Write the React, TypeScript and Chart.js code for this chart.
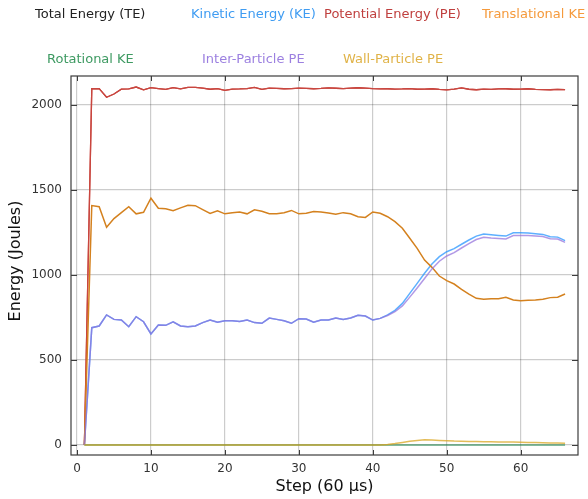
import React, { useEffect, useRef } from 'react';
import { Chart, registerables } from 'chart.js';

Chart.register(...registerables);

const steps = [1, 2, 3, 4, 5, 6, 7, 8, 9, 10, 11, 12, 13, 14, 15, 16, 17, 18, 19, 20, 21, 22, 23, 24, 25, 26, 27, 28, 29, 30, 31, 32, 33, 34, 35, 36, 37, 38, 39, 40, 41, 42, 43, 44, 45, 46, 47, 48, 49, 50, 51, 52, 53, 54, 55, 56, 57, 58, 59, 60, 61, 62, 63, 64, 65, 66];

const totalEnergy = [0, 2096, 2097, 2046, 2065, 2094, 2095, 2106, 2090, 2102, 2097, 2092, 2103, 2095, 2104, 2104, 2100, 2093, 2097, 2087, 2094, 2095, 2097, 2104, 2092, 2100, 2098, 2096, 2097, 2100, 2098, 2096, 2098, 2101, 2099, 2097, 2100, 2102, 2100, 2097, 2095, 2096, 2094, 2095, 2097, 2093, 2094, 2096, 2092, 2089, 2094, 2101, 2093, 2090, 2094, 2092, 2095, 2096, 2093, 2094, 2096, 2092, 2091, 2090, 2092, 2091];

const potentialEnergy = [0, 2096, 2097, 2046, 2065, 2094, 2095, 2106, 2090, 2102, 2097, 2092, 2103, 2095, 2104, 2104, 2100, 2093, 2097, 2087, 2094, 2095, 2097, 2104, 2092, 2100, 2098, 2096, 2097, 2100, 2098, 2096, 2098, 2101, 2099, 2097, 2100, 2102, 2100, 2097, 2095, 2096, 2094, 2095, 2097, 2093, 2094, 2096, 2092, 2089, 2094, 2101, 2093, 2090, 2094, 2092, 2095, 2096, 2093, 2094, 2096, 2092, 2091, 2090, 2092, 2091];

const kineticEnergy = [0, 690, 700, 765, 739, 735, 696, 755, 725, 653, 706, 704, 725, 700, 696, 700, 720, 735, 722, 731, 731, 727, 735, 720, 716, 747, 739, 731, 716, 743, 741, 722, 735, 735, 747, 739, 747, 763, 759, 735, 745, 765, 792, 833, 892, 951, 1010, 1065, 1108, 1137, 1155, 1181, 1206, 1229, 1241, 1237, 1233, 1229, 1249, 1249, 1247, 1243, 1239, 1225, 1223, 1202];

const translationalKE = [0, 1409, 1402, 1281, 1332, 1367, 1402, 1360, 1369, 1452, 1393, 1390, 1378, 1395, 1410, 1408, 1385, 1362, 1378, 1360, 1367, 1371, 1360, 1384, 1375, 1360, 1360, 1367, 1380, 1360, 1364, 1374, 1371, 1365, 1357, 1367, 1360, 1343, 1339, 1371, 1363, 1343, 1314, 1275, 1216, 1157, 1088, 1045, 994, 967, 947, 916, 888, 863, 857, 861, 861, 869, 853, 849, 851, 853, 857, 867, 869, 888];

const rotationalKE = [0, 0, 0, 0, 0, 0, 0, 0, 0, 0, 0, 0, 0, 0, 0, 0, 0, 0, 0, 0, 0, 0, 0, 0, 0, 0, 0, 0, 0, 0, 0, 0, 0, 0, 0, 0, 0, 0, 0, 0, 0, 0, 0, 0, 0, 0, 0, 0, 0, 0, 0, 0, 0, 0, 0, 0, 0, 0, 0, 0, 0, 0, 0, 0, 0, 0];

const interParticlePE = [0, 690, 700, 765, 739, 735, 696, 755, 725, 653, 706, 704, 725, 700, 696, 700, 720, 735, 722, 731, 731, 727, 735, 720, 716, 747, 739, 731, 716, 743, 741, 722, 735, 735, 747, 739, 747, 763, 759, 735, 745, 762, 784, 818, 870, 924, 980, 1036, 1081, 1112, 1132, 1159, 1185, 1209, 1222, 1218, 1215, 1212, 1232, 1233, 1232, 1229, 1226, 1213, 1212, 1192];

const wallParticlePE = [0, 0, 0, 0, 0, 0, 0, 0, 0, 0, 0, 0, 0, 0, 0, 0, 0, 0, 0, 0, 0, 0, 0, 0, 0, 0, 0, 0, 0, 0, 0, 0, 0, 0, 0, 0, 0, 0, 0, 0, 0, 3, 8, 15, 22, 27, 30, 29, 27, 25, 23, 22, 21, 20, 19, 19, 18, 17, 17, 16, 15, 14, 13, 12, 11, 10];

const xTicks = [0, 10, 20, 30, 40, 50, 60];
const yTicks = [0, 500, 1000, 1500, 2000];

const seriesLabels = [
  'Total Energy (TE)',
  'Kinetic Energy (KE)',
  'Potential Energy (PE)',
  'Translational KE',
  'Rotational KE',
  'Inter-Particle PE',
  'Wall-Particle PE',
];

const xTitle = 'Step (60 µs)';
const yTitle = 'Energy (Joules)';

const FONT = "'DejaVu Sans', sans-serif";

// legend styling / placement (layout only)
const legendTextColors = ['#222222', '#3f9cf2', '#c0403f', '#f59a3c', '#3e9a62', '#9c80e0', '#e0b348'];
const legendPlaces = [
  [35, 15], [191, 15], [324, 15], [482, 15],
  [47, 60], [202, 60], [343, 60],
];

const lineColors = {
  te: '#c9463f',
  ke: 'rgba(30,144,255,0.72)',
  pe: '#c9463f',
  trans: '#d4811e',
  rot: 'rgba(46,139,87,0.75)',
  inter: 'rgba(147,112,219,0.72)',
  wall: 'rgba(218,165,32,0.75)',
};

const decorPlugin = {
  id: 'decor',
  afterDraw(chart: any) {
    const ctx = chart.ctx;
    const a = chart.chartArea;
    ctx.save();
    // frame
    ctx.strokeStyle = '#3c3c3c';
    ctx.lineWidth = 1.2;
    ctx.strokeRect(a.left, a.top, a.right - a.left, a.bottom - a.top);
    // inward ticks
    const xs = chart.scales.x;
    const ys = chart.scales.y;
    ctx.lineWidth = 1;
    ctx.beginPath();
    xTicks.forEach((v) => {
      const px = Math.round(xs.getPixelForValue(v)) + 0.5;
      ctx.moveTo(px, a.bottom);
      ctx.lineTo(px, a.bottom - 5);
      ctx.moveTo(px, a.top);
      ctx.lineTo(px, a.top + 5);
    });
    yTicks.forEach((v) => {
      const py = Math.round(ys.getPixelForValue(v)) + 0.5;
      ctx.moveTo(a.left, py);
      ctx.lineTo(a.left + 6, py);
      ctx.moveTo(a.right, py);
      ctx.lineTo(a.right - 6, py);
    });
    ctx.stroke();

    // axis titles
    ctx.fillStyle = '#111111';
    ctx.font = `16px ${FONT}`;
    ctx.textAlign = 'center';
    ctx.textBaseline = 'middle';
    ctx.fillText(xTitle, (a.left + a.right) / 2, 487);
    ctx.save();
    ctx.translate(16, 261);
    ctx.rotate(-Math.PI / 2);
    ctx.fillText(yTitle, 0, 0);
    ctx.restore();

    // legend
    ctx.font = `13px ${FONT}`;
    ctx.textAlign = 'left';
    ctx.textBaseline = 'middle';
    seriesLabels.forEach((lab, i) => {
      ctx.fillStyle = legendTextColors[i];
      ctx.fillText(lab, legendPlaces[i][0], legendPlaces[i][1]);
    });
    ctx.restore();
  },
};

function pts(vals: number[]) {
  return steps.map((s, i) => ({ x: s, y: vals[i] }));
}

export default function App() {
  const ref = useRef<HTMLCanvasElement | null>(null);

  useEffect(() => {
    if (!ref.current) return;
    const series = [
      { label: seriesLabels[0], data: pts(totalEnergy), color: lineColors.te, w: 1.3 },
      { label: seriesLabels[2], data: pts(potentialEnergy), color: lineColors.pe, w: 1.3 },
      { label: seriesLabels[1], data: pts(kineticEnergy), color: lineColors.ke, w: 1.5 },
      { label: seriesLabels[3], data: pts(translationalKE), color: lineColors.trans, w: 1.5 },
      { label: seriesLabels[4], data: pts(rotationalKE), color: lineColors.rot, w: 1.5 },
      { label: seriesLabels[5], data: pts(interParticlePE), color: lineColors.inter, w: 1.5 },
      { label: seriesLabels[6], data: pts(wallParticlePE), color: lineColors.wall, w: 1.5 },
    ];
    const n = series.length;
    const chart = new Chart(ref.current, {
      type: 'line',
      data: {
        datasets: series.map((s, i) => ({
          label: s.label,
          data: s.data,
          borderColor: s.color,
          backgroundColor: s.color,
          borderWidth: s.w,
          pointRadius: 0,
          tension: 0,
          fill: false,
          order: n - i,
        })),
      },
      options: {
        animation: false,
        responsive: true,
        maintainAspectRatio: false,
        layout: { padding: { left: 0, right: 10, top: 76, bottom: 0 } },
        plugins: {
          legend: { display: false },
          tooltip: { enabled: false },
        },
        scales: {
          x: {
            type: 'linear',
            min: -0.81,
            max: 67.75,
            afterBuildTicks: (s: any) => {
              s.ticks = xTicks.map((v) => ({ value: v }));
            },
            afterFit: (s: any) => {
              s.height = 44;
            },
            grid: { color: 'rgba(0,0,0,0.2)', lineWidth: 1.2, drawTicks: false },
            border: { display: false },
            ticks: {
              padding: 7,
              maxRotation: 0,
              color: '#333333',
              font: { family: FONT, size: 12 },
              callback: (v: any) => String(v),
            },
          },
          y: {
            type: 'linear',
            min: -59,
            max: 2171,
            afterBuildTicks: (s: any) => {
              s.ticks = yTicks.map((v) => ({ value: v }));
            },
            afterFit: (s: any) => {
              s.width = 71;
            },
            grid: { color: 'rgba(0,0,0,0.2)', lineWidth: 1.2, drawTicks: false },
            border: { display: false },
            ticks: {
              padding: 9,
              color: '#333333',
              font: { family: FONT, size: 12 },
              callback: (v: any) => String(v),
            },
          },
        },
      } as any,
      plugins: [decorPlugin],
    });
    return () => chart.destroy();
  }, []);

  return (
    <div style={{ position: 'fixed', left: 0, top: 0, width: 588, height: 499, background: '#ffffff' }}>
      <canvas ref={ref} />
    </div>
  );
}
